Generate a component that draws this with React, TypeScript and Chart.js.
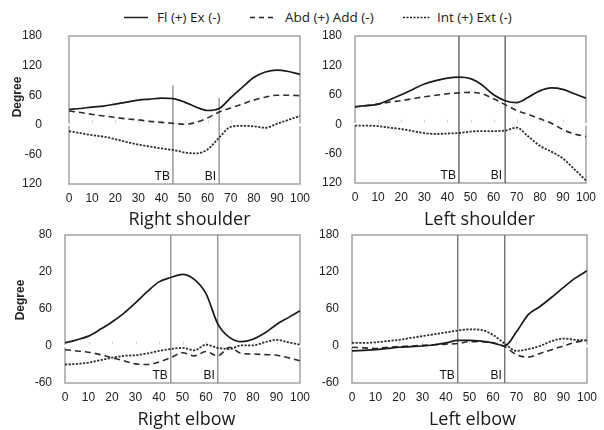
import React, { useEffect, useRef } from "react";
import { Chart, registerables } from "chart.js";

Chart.register(...registerables);

// ---------- data ----------
const xs = [0, 5, 10, 15, 20, 25, 30, 35, 40, 45, 50, 55, 60, 65, 70, 75, 80, 85, 90, 95, 100];

// Right shoulder
const rsFlex = [31, 33, 36, 38, 42, 46, 50, 52, 54, 53, 46, 36, 29, 33, 55, 76, 96, 107, 111, 108, 102];
const rsAbd = [28, 25, 21, 18, 15, 12, 10, 7, 5, 3, 1, 5, 14, 26, 34, 42, 50, 56, 60, 60, 59];
const rsInt = [-13, -17, -21, -24, -29, -35, -40, -44, -48, -51, -56, -58, -50, -26, -4, -2, -3, -6, 2, 10, 18];

// Left shoulder
const lsFlex = [36, 38, 41, 50, 60, 71, 82, 89, 94, 96, 93, 80, 60, 48, 44, 55, 68, 74, 71, 62, 53];
const lsAbd = [35, 38, 41, 45, 48, 52, 56, 59, 62, 64, 65, 62, 52, 40, 28, 20, 11, 2, -11, -20, -25];
const lsInt = [-3, -3, -4, -7, -10, -14, -18, -20, -19, -18, -15, -14, -14, -13, -7, -25, -44, -56, -70, -92, -115];

// Right elbow
const reFlex = [5, 10, 16, 27, 39, 53, 70, 88, 104, 111, 116, 108, 85, 36, 14, 7, 11, 21, 35, 46, 57];
const reAbd = [-6, -8, -10, -14, -19, -24, -29, -30, -26, -19, -11, -16, -9, -16, -2, -12, -13, -14, -15, -19, -24];
const reInt = [-30, -29, -27, -23, -19, -16, -15, -12, -8, -5, -3, -7, 2, -3, -5, 1, 1, 6, 10, 6, 2];

// Left elbow
const leFlex = [-8, -7, -6, -4, -2, -1, 0, 2, 5, 9, 9, 8, 5, 0, 23, 51, 64, 79, 95, 110, 122];
const leAbd = [-2, -3, -4, -2, -1, 0, 1, 2, 3, 4, 7, 7, 5, -1, -14, -18, -12, -6, 0, 6, 9];
const leInt = [5, 5, 6, 8, 10, 13, 16, 19, 22, 25, 27, 26, 18, 4, -8, -5, 0, 8, 12, 10, 9];

// ticks
const xTickValues = [0, 10, 20, 30, 40, 50, 60, 70, 80, 90, 100];
const shoulderYTickValues = [-120, -60, 0, 60, 120, 180];
const shoulderYTickLabels = ["120", "-60", "0", "60", "120", "180"];
const elbowYTickValues = [-60, 0, 60, 120, 180];
const rightElbowYTickLabels = ["-60", "0", "60", "20", "80"];
const leftElbowYTickLabels = ["-60", "0", "60", "120", "180"];

// phase markers
const phaseNames = ["TB", "BI"];
const phaseX = [45, 65];
const rsPhaseTops = [80, 55];

const legendLabels = ["Fl (+) Ex (-)", "Abd (+) Add (-)", "Int (+) Ext (-)"];
const panelTitles = ["Right shoulder", "Left shoulder", "Right elbow", "Left elbow"];

// ---------- layout / style ----------
const W = 604;
const H = 430;
const Y_W = 62;
const X_H = 30;

const seriesStyles = [
  { color: "#1a1a1a", width: 1.7, dash: [] as number[] },
  { color: "#2e2e2e", width: 1.6, dash: [6, 4] },
  { color: "#2e2e2e", width: 1.8, dash: [2.2, 1.4] },
];

type Panel = {
  area: { l: number; r: number; t: number; b: number };
  yMin: number;
  yMax: number;
  yTickValues: number[];
  yTickLabels: string[];
  tickPad: number;
  series: number[][];
  phaseTops: number[];
  phaseColor: string;
  title: string;
  titleDx: number;
  titleDy: number;
  degree: { dx: number; dy: number } | null;
};

const panels: Panel[] = [
  {
    area: { l: 69, r: 300, t: 36, b: 184 },
    yMin: -120, yMax: 180,
    yTickValues: shoulderYTickValues, yTickLabels: shoulderYTickLabels, tickPad: 27,
    series: [rsFlex, rsAbd, rsInt],
    phaseTops: rsPhaseTops, phaseColor: "#8a8a8a",
    title: panelTitles[0], titleDx: 5, titleDy: 36,
    degree: { dx: -51, dy: 61 },
  },
  {
    area: { l: 355, r: 586, t: 36, b: 183 },
    yMin: -120, yMax: 180,
    yTickValues: shoulderYTickValues, yTickLabels: shoulderYTickLabels, tickPad: 13,
    series: [lsFlex, lsAbd, lsInt],
    phaseTops: [180, 180], phaseColor: "#555555",
    title: panelTitles[1], titleDx: 9, titleDy: 37,
    degree: null,
  },
  {
    area: { l: 65, r: 300, t: 235, b: 383 },
    yMin: -60, yMax: 180,
    yTickValues: elbowYTickValues, yTickLabels: rightElbowYTickLabels, tickPad: 13,
    series: [reFlex, reAbd, reInt],
    phaseTops: [180, 180], phaseColor: "#8a8a8a",
    title: panelTitles[2], titleDx: 4, titleDy: 37,
    degree: { dx: -44, dy: 65 },
  },
  {
    area: { l: 352, r: 587, t: 235, b: 383 },
    yMin: -60, yMax: 180,
    yTickValues: elbowYTickValues, yTickLabels: leftElbowYTickLabels, tickPad: 13,
    series: [leFlex, leAbd, leInt],
    phaseTops: [180, 180], phaseColor: "#6a6a6a",
    title: panelTitles[3], titleDx: 3, titleDy: 37,
    degree: null,
  },
];

function makeExtras(p: Panel) {
  return {
    id: "extras",
    beforeDatasetsDraw(chart: any) {
      const { ctx, chartArea: a, scales } = chart;
      const y0 = scales.y.getPixelForValue(0);
      ctx.save();
      ctx.strokeStyle = "#a3a3a3";
      ctx.lineWidth = 1.5;
      ctx.strokeRect(a.left, a.top, a.right - a.left, a.bottom - a.top);
      ctx.strokeStyle = "#ffffff";
      ctx.lineWidth = 2.5;
      ctx.beginPath();
      ctx.moveTo(a.left - 2, y0);
      ctx.lineTo(a.right + 2, y0);
      ctx.stroke();
      ctx.strokeStyle = "#d4d4d4";
      ctx.lineWidth = 1;
      xTickValues.slice(1, -1).forEach((v) => {
        const px = Math.round(scales.x.getPixelForValue(v)) + 0.5;
        ctx.beginPath();
        ctx.moveTo(px, y0 - 1.5);
        ctx.lineTo(px, y0 - 4.5);
        ctx.stroke();
      });
      ctx.restore();
    },
    afterDatasetsDraw(chart: any) {
      const { ctx, chartArea: a, scales } = chart;
      ctx.save();
      // phase labels
      ctx.fillStyle = "#111";
      ctx.font = '12px "Liberation Sans", Arial, sans-serif';
      ctx.textAlign = "right";
      ctx.textBaseline = "alphabetic";
      phaseNames.forEach((n, i) => {
        const px = scales.x.getPixelForValue(phaseX[i]);
        ctx.fillText(n, px - 3, a.bottom - 4.5);
      });
      // panel title
      ctx.fillStyle = "#1a1a1a";
      ctx.font = '18px "Open Sans", sans-serif';
      ctx.textAlign = "center";
      ctx.textBaseline = "middle";
      ctx.fillText(p.title, (a.left + a.right) / 2 + p.titleDx, a.bottom + p.titleDy);
      // Degree
      if (p.degree) {
        ctx.translate(a.left + p.degree.dx, a.top + p.degree.dy);
        ctx.rotate(-Math.PI / 2);
        ctx.font = 'bold 12px "Liberation Sans", Arial, sans-serif';
        ctx.fillStyle = "#222";
        ctx.fillText("Degree", 0, 0);
      }
      ctx.restore();
    },
  };
}

function PanelChart({ p }: { p: Panel }) {
  const ref = useRef<HTMLCanvasElement | null>(null);
  useEffect(() => {
    if (!ref.current) return;
    const curveSets = p.series.map((vals, si) => ({
      data: xs.map((x, i) => ({ x, y: vals[i] })),
      borderColor: seriesStyles[si].color,
      borderWidth: seriesStyles[si].width,
      borderDash: seriesStyles[si].dash,
      pointRadius: 0,
      fill: false,
      cubicInterpolationMode: "monotone" as const,
    }));
    const phaseSets = phaseX.map((px, i) => ({
      data: [
        { x: px, y: p.phaseTops[i] },
        { x: px, y: p.yMin },
      ],
      borderColor: p.phaseColor,
      borderWidth: 1.3,
      pointRadius: 0,
      fill: false,
    }));
    const chart = new Chart(ref.current, {
      type: "line",
      data: { datasets: [...curveSets, ...phaseSets] as any },
      options: {
        animation: false,
        responsive: false,
        maintainAspectRatio: false,
        devicePixelRatio: 1,
        events: [],
        layout: {
          padding: {
            left: p.area.l - Y_W,
            right: W - p.area.r,
            top: p.area.t,
            bottom: H - p.area.b - X_H,
          },
        },
        plugins: {
          legend: { display: false },
          tooltip: { enabled: false },
          title: { display: false },
        },
        scales: {
          x: {
            type: "linear",
            min: 0,
            max: 100,
            afterFit: (s: any) => {
              s.height = X_H;
            },
            afterBuildTicks: (s: any) => {
              s.ticks = xTickValues.map((v) => ({ value: v }));
            },
            grid: { display: false, drawTicks: false },
            border: { display: false },
            ticks: {
              padding: 7,
              autoSkip: false,
              maxRotation: 0,
              color: "#222",
              font: { family: '"Liberation Sans", Arial, sans-serif', size: 12 },
              callback: (v: any) => String(v),
            },
          },
          y: {
            type: "linear",
            min: p.yMin,
            max: p.yMax,
            afterFit: (s: any) => {
              s.width = Y_W;
            },
            afterBuildTicks: (s: any) => {
              s.ticks = p.yTickValues.map((v) => ({ value: v }));
            },
            grid: { display: false, drawTicks: false },
            border: { display: false },
            ticks: {
              padding: p.tickPad,
              autoSkip: false,
              color: "#222",
              font: { family: '"Liberation Sans", Arial, sans-serif', size: 12 },
              callback: (v: any) => {
                const idx = p.yTickValues.indexOf(Number(v));
                return idx >= 0 ? p.yTickLabels[idx] : "";
              },
            },
          },
        },
      },
      plugins: [makeExtras(p)],
    });
    return () => chart.destroy();
  }, [p]);
  return (
    <canvas
      ref={ref}
      width={W}
      height={H}
      style={{ position: "absolute", left: 0, top: 0, width: W, height: H }}
    />
  );
}

function Legend() {
  const items = [
    { x1: 124, x2: 148, dash: "", tx: 157 },
    { x1: 250, x2: 275, dash: "5 4", tx: 285 },
    { x1: 403, x2: 430, dash: "2 1.5", tx: 437 },
  ];
  return (
    <>
      <svg width={W} height={30} style={{ position: "absolute", left: 0, top: 0 }}>
        {items.map((it, i) => (
          <line
            key={i}
            x1={it.x1}
            x2={it.x2}
            y1={17.5}
            y2={17.5}
            stroke="#222"
            strokeWidth={1.5}
            strokeDasharray={it.dash || undefined}
          />
        ))}
      </svg>
      {items.map((it, i) => (
        <div
          key={i}
          style={{
            position: "absolute",
            left: it.tx,
            top: 7,
            height: 20,
            lineHeight: "20px",
            fontFamily: '"Open Sans", sans-serif',
            fontSize: 13.5,
            color: "#1a1a1a",
            whiteSpace: "nowrap",
          }}
        >
          {legendLabels[i]}
        </div>
      ))}
    </>
  );
}

export default function App() {
  return (
    <div
      style={{
        position: "fixed",
        left: 0,
        top: 0,
        width: W,
        height: H,
        background: "#fff",
        overflow: "hidden",
      }}
    >
      <Legend />
      {panels.map((p, i) => (
        <PanelChart key={i} p={p} />
      ))}
    </div>
  );
}
